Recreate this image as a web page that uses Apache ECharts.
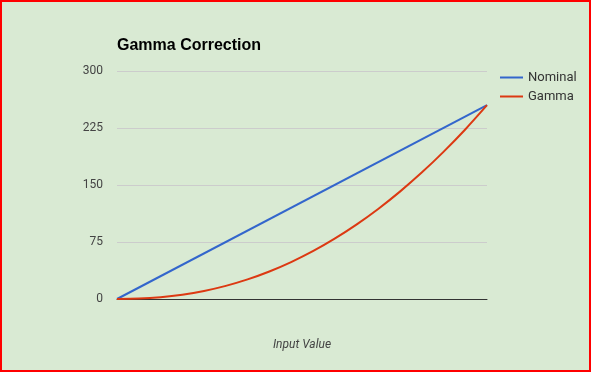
<!DOCTYPE html>
<html>
<head>
<meta charset="utf-8">
<script src="https://cdn.jsdelivr.net/npm/echarts@6/dist/echarts.min.js"></script>
<style>
  html, body { margin: 0; padding: 0; background: #d9ead3; }
  #wrap { width: 591px; height: 372px; box-sizing: border-box; border: 2px solid #ff0000; position: relative; background: #d9ead3; }
  #chart { position: absolute; left: -2px; top: -2px; width: 591px; height: 372px; }
</style>
</head>
<body>
<div id="wrap"><div id="chart"></div></div>
<script>
const titleText = "Gamma Correction";
const xAxisName = "Input Value";
const seriesNames = ["Nominal", "Gamma"];
const nominalX = [0, 255];
const nominalY = [0, 255];
const gammaX = [0, 15, 30, 45, 60, 75, 90, 105, 120, 135, 150, 165, 180, 195, 210, 225, 240, 255];
const gammaY = [0, 0.5, 2.3, 5.6, 10.6, 17.3, 25.8, 36.2, 48.6, 62.9, 79.4, 97.9, 118.5, 141.3, 166.3, 193.6, 223.1, 255];
const yTicks = [0, 75, 150, 225, 300];

const chart = echarts.init(document.getElementById('chart'), null, { renderer: 'canvas' });
chart.setOption({
  backgroundColor: 'transparent',
  animation: false,
  title: {
    text: titleText, left: 117, top: 38, padding: 0,
    textStyle: { fontFamily: 'Arial, Liberation Sans', fontSize: 16, fontWeight: 'bold', color: '#000' }
  },
  legend: {
    orient: 'vertical', left: 495, top: 66,
    itemWidth: 23, itemHeight: 2, itemGap: 6, icon: 'rect',
    textStyle: { fontFamily: 'Roboto, Arial', fontSize: 13, color: '#333' },
    data: seriesNames
  },
  grid: { left: 117, right: 104, top: 71, bottom: 73, containLabel: false },
  xAxis: {
    type: 'value', min: 0, max: 255,
    name: xAxisName, nameLocation: 'middle', nameGap: 40,
    nameTextStyle: { fontFamily: 'Roboto, Arial', fontSize: 12, fontStyle: 'italic', color: '#444' },
    axisLine: { show: true, onZero: true, lineStyle: { color: '#333', width: 1 } },
    axisTick: { show: false }, axisLabel: { show: false }, splitLine: { show: false }
  },
  yAxis: {
    type: 'value', min: yTicks[0], max: yTicks[yTicks.length - 1], interval: yTicks[1] - yTicks[0],
    axisLine: { show: false }, axisTick: { show: false },
    axisLabel: { margin: 14, fontFamily: 'Roboto, Arial', fontSize: 12, color: '#444' },
    splitLine: { lineStyle: { color: '#cccccc', width: 1 } }
  },
  series: [
    {
      name: seriesNames[0], type: 'line', symbol: 'none',
      itemStyle: { color: '#3366cc' }, lineStyle: { color: '#3366cc', width: 2 },
      data: nominalX.map((x, i) => [x, nominalY[i]])
    },
    {
      name: seriesNames[1], type: 'line', symbol: 'none', smooth: 0.3,
      itemStyle: { color: '#dc3912' }, lineStyle: { color: '#dc3912', width: 2 },
      data: gammaX.map((x, i) => [x, gammaY[i]])
    }
  ]
});
</script>
</body>
</html>
